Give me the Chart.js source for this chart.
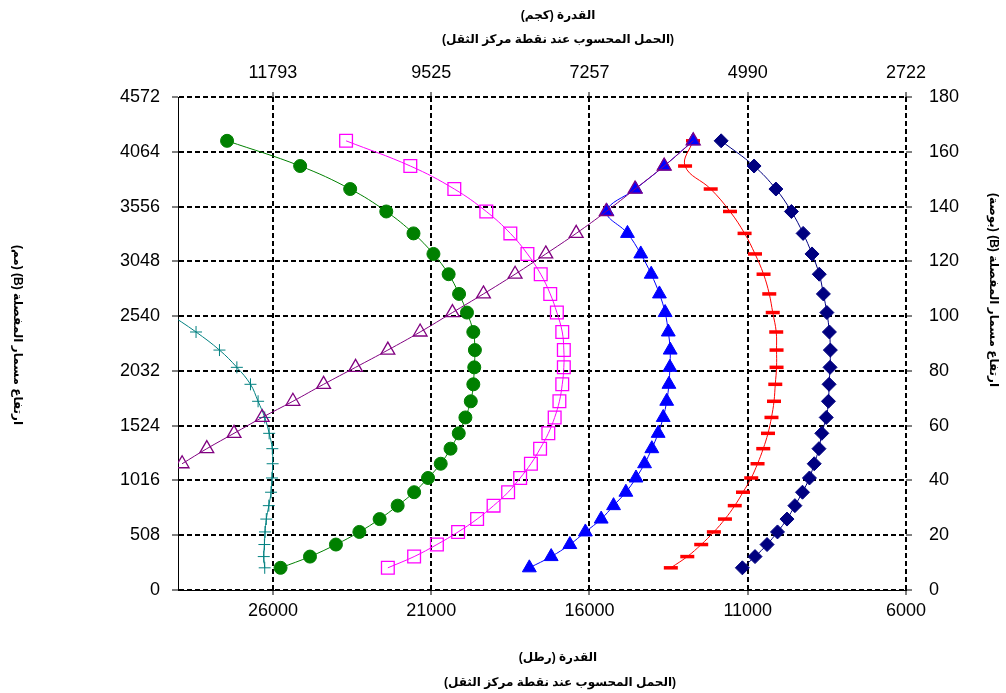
<!DOCTYPE html>
<html><head><meta charset="utf-8">
<script src="https://cdn.jsdelivr.net/npm/chart.js@4/dist/chart.umd.min.js"></script>
<style>html,body{margin:0;padding:0;background:#fff;}#wrap{width:1006px;height:693px;}</style>
</head><body><div id="wrap"><canvas id="c" width="1006" height="693"></canvas></div>
<script>
// ---- data (heights in inches, loads in lb) ----
const heightIn = [8.1, 12.2, 16.6, 21.2, 25.9, 30.8, 35.7, 40.9, 46.1, 51.6, 57.2, 63.0, 68.9, 75.1, 81.3, 87.6, 94.2, 101.3, 108.1, 115.3, 122.7, 130.2, 138.2, 146.4, 154.8, 164.0];
const greenLoads   = [25760, 24830, 24010, 23270, 22630, 22060, 21540, 21100, 20700, 20390, 20130, 19920, 19750, 19670, 19640, 19620, 19670, 19870, 20120, 20450, 20930, 21560, 22420, 23560, 25140, 27450];
const magentaLoads = [22370, 21540, 20820, 20150, 19550, 19030, 18570, 18190, 17850, 17560, 17300, 17100, 16950, 16860, 16810, 16810, 16860, 17030, 17240, 17540, 17960, 18500, 19260, 20270, 21660, 23690];
const blueLoads    = [17900, 17210, 16620, 16130, 15630, 15240, 14850, 14530, 14260, 14030, 13830, 13670, 13560, 13490, 13460, 13450, 13510, 13610, 13790, 14050, 14380, 14800, 15450, 14550, 13640, 12730];
const redLoads     = [13430, 12910, 12470, 12070, 11720, 11410, 11150, 10890, 10690, 10510, 10360, 10250, 10170, 10130, 10090, 10090, 10100, 10210, 10320, 10500, 10770, 11100, 11560, 12170, 12980, 12730];
const navyLoads    = [11170, 10770, 10390, 10060, 9760, 9510, 9270, 9050, 8900, 8750, 8660, 8520, 8450, 8430, 8400, 8390, 8420, 8500, 8610, 8740, 8970, 9250, 9620, 10110, 10800, 11840];
const tealLoads    = [26260, 26290, 26270, 26250, 26210, 26130, 26060, 26030, 26010, 26020, 26120, 26260, 26470, 26710, 27140, 27690, 28430, 29340];
const purpleStart  = 8;
const purpleLoads  = [28870, 28090, 27230, 26340, 25370, 24400, 23390, 22370, 21350, 20330, 19350, 18350, 17380, 16420, 15470, 14560, 13640, 12720];

const loadLbTicks   = [6000, 11000, 16000, 21000, 26000];
const loadKgLabels  = ['2722', '4990', '7257', '9525', '11793'];
const heightInTicks = [0, 20, 40, 60, 80, 100, 120, 140, 160, 180];
const heightMmLabels = ['0', '508', '1016', '1524', '2032', '2540', '3048', '3556', '4064', '4572'];

const titleTop1 = 'القدرة (كجم)';
const titleSub  = '(الحمل المحسوب عند نقطة مركز الثقل)';
const titleBottom1 = 'القدرة (رطل)';
const titleLeft  = 'ارتفاع مسمار المفصلة (B) (مم)';
const titleRight = 'ارتفاع مسمار المفصلة (B) (بوصة)';

// ---- build ----
function pts(loads, start) {
  start = start || 0;
  return loads.map((v, i) => ({x: v, y: heightIn[start + i]}));
}
const tickFont = {family: "Arial, 'Liberation Sans', sans-serif", size: 18};
const titleFont = "bold 12px Arial, 'Liberation Sans', 'DejaVu Sans', sans-serif";

function series(data, color, style, radius, filled, pbw) {
  return {
    data: data, borderColor: color, borderWidth: 1, tension: 0.4,
    pointStyle: style, pointRadius: radius,
    pointBackgroundColor: filled ? color : 'rgba(0,0,0,0)',
    pointBorderColor: color, pointBorderWidth: pbw, fill: false
  };
}

const datasets = [
  series(pts(purpleLoads, purpleStart), '#800080', 'triangle', 8, false, 1.3),
  series(pts(blueLoads), '#0000FF', 'triangle', 8, true, 1),
  series(pts(redLoads), '#FF0000', 'line', 7, true, 3.5),
  series(pts(navyLoads), '#000080', 'rectRot', 7, true, 1),
  series(pts(magentaLoads), '#FF00FF', 'rect', 9, false, 1.3),
  series(pts(greenLoads), '#008000', 'circle', 6.5, true, 1),
  series(pts(tealLoads), '#008080', 'cross', 6, false, 1)
];

const titlesPlugin = {
  id: 'titles',
  afterDraw(chart) {
    const ctx = chart.ctx;
    ctx.save();
    ctx.fillStyle = '#000';
    ctx.font = titleFont;
    ctx.direction = 'rtl';
    ctx.textAlign = 'center';
    ctx.textBaseline = 'middle';
    ctx.fillText(titleTop1, 558, 16);
    ctx.fillText(titleSub, 558, 40);
    ctx.fillText(titleBottom1, 558, 658);
    ctx.fillText(titleSub, 560, 683);
    ctx.save();
    ctx.translate(17, 335);
    ctx.rotate(Math.PI / 2);
    ctx.fillText(titleLeft, 0, 0);
    ctx.restore();
    ctx.save();
    ctx.translate(993, 290);
    ctx.rotate(Math.PI / 2);
    ctx.fillText(titleRight, 0, 0);
    ctx.restore();
    ctx.restore();
  }
};

const gridCommon = {color: '#000', lineWidth: 2, tickColor: '#000', tickWidth: 1, tickBorderDash: []};

new Chart(document.getElementById('c'), {
  type: 'line',
  data: {datasets: datasets},
  plugins: [titlesPlugin],
  options: {
    responsive: false, animation: false, events: [],
    layout: {padding: 0},
    plugins: {legend: {display: false}, tooltip: {enabled: false}, title: {display: false}},
    scales: {
      x: {
        type: 'linear', position: 'bottom', reverse: true, min: 6000, max: 29000,
        afterBuildTicks: s => { s.ticks = loadLbTicks.map(v => ({value: v})); },
        afterFit: s => { s.height = 103; },
        ticks: {font: tickFont, color: '#000', padding: 5, maxRotation: 0, autoSkip: false, callback: v => String(v)},
        grid: Object.assign({}, gridCommon, {drawOnChartArea: true, drawTicks: true, tickLength: 5}),
        border: {display: true, color: '#000', width: 1, dash: [5, 3]}
      },
      xKg: {
        type: 'linear', position: 'top', reverse: true, min: 6000, max: 29000,
        afterBuildTicks: s => { s.ticks = loadLbTicks.map(v => ({value: v})); },
        afterFit: s => { s.height = 97; },
        ticks: {font: tickFont, color: '#000', padding: 8, maxRotation: 0, autoSkip: false,
                callback: (v) => loadKgLabels[loadLbTicks.indexOf(v)]},
        grid: Object.assign({}, gridCommon, {drawOnChartArea: false, drawTicks: true, tickLength: 5}),
        border: {display: false}
      },
      yMm: {
        type: 'linear', position: 'left', min: 0, max: 180,
        afterBuildTicks: s => { s.ticks = heightInTicks.map(v => ({value: v})); },
        afterFit: s => { s.width = 178; },
        ticks: {font: tickFont, color: '#000', padding: 12, autoSkip: false,
                callback: (v) => heightMmLabels[heightInTicks.indexOf(v)]},
        grid: Object.assign({}, gridCommon, {drawOnChartArea: true, drawTicks: true, tickLength: 6}),
        border: {display: true, color: '#000', width: 1, dash: [5, 3]}
      },
      y: {
        type: 'linear', position: 'right', min: 0, max: 180,
        afterBuildTicks: s => { s.ticks = heightInTicks.map(v => ({value: v})); },
        afterFit: s => { s.width = 100; },
        ticks: {font: tickFont, color: '#000', padding: 17, autoSkip: false, callback: v => String(v)},
        grid: Object.assign({}, gridCommon, {drawOnChartArea: false, drawTicks: true, tickLength: 6}),
        border: {display: false}
      }
    }
  }
});
</script>
</body></html>
